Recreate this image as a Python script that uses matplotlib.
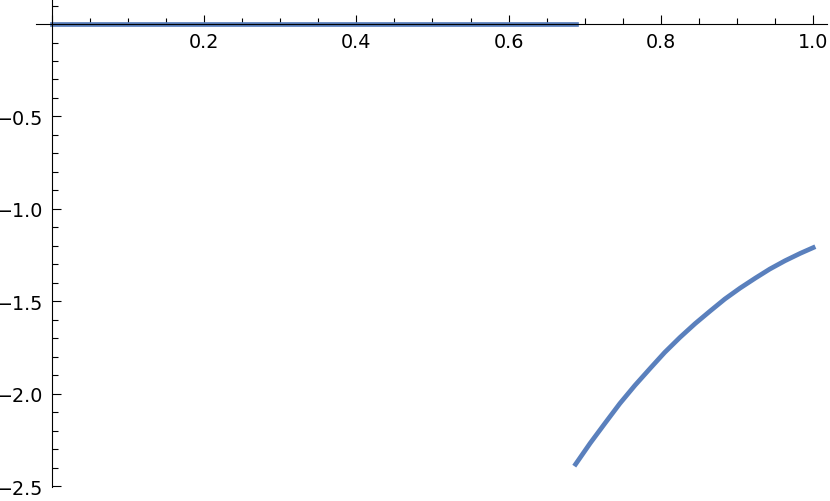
import matplotlib
matplotlib.use("Agg")
import matplotlib.pyplot as plt
from matplotlib.ticker import MultipleLocator, FuncFormatter

# ---------------------- data ----------------------
flat_x = [0.0, 0.688]
flat_y = [0.0, 0.0]

curve_x = [0.688, 0.707, 0.727, 0.746, 0.766, 0.786, 0.805, 0.825, 0.845,
           0.865, 0.884, 0.904, 0.924, 0.943, 0.963, 0.983, 1.000]
curve_y = [-2.382, -2.269, -2.158, -2.054, -1.955, -1.863, -1.777, -1.696, -1.621,
           -1.552, -1.488, -1.429, -1.375, -1.326, -1.281, -1.241, -1.210]

line_color = "#5a80bd"

# ----------------------------- plot -----------------------------------
fig = plt.figure(figsize=(8.3, 5.02), dpi=100)
ax = fig.add_axes([0.0434, 0.0273, 0.9526, 0.9707])

ax.plot(flat_x, flat_y, color=line_color, lw=3.4)
ax.plot(curve_x, curve_y, color=line_color, lw=3.4, solid_joinstyle="round")

ax.set_xlim(-0.0206, 1.0177)
ax.set_ylim(-2.507, 0.13)

ax.spines["left"].set_position(("data", 0))
ax.spines["bottom"].set_position(("data", 0))
ax.spines["top"].set_visible(False)
ax.spines["right"].set_visible(False)
for s in ("left", "bottom"):
    ax.spines[s].set_linewidth(0.8)

ax.xaxis.set_major_locator(MultipleLocator(0.2))
ax.xaxis.set_minor_locator(MultipleLocator(0.05))
ax.yaxis.set_major_locator(MultipleLocator(0.5))
ax.yaxis.set_minor_locator(MultipleLocator(0.1))


def no_zero(v, pos):
    if abs(v) < 1e-9:
        return ""
    return ("%.1f" % v).replace("-", "\u2212")


ax.xaxis.set_major_formatter(FuncFormatter(no_zero))
ax.yaxis.set_major_formatter(FuncFormatter(no_zero))

ax.tick_params(which="both", direction="in", width=0.8, labelsize=13.8, pad=6)
ax.tick_params(which="major", length=6.7)
ax.tick_params(which="minor", length=4.1)

fig.savefig("out.png", dpi=100)
